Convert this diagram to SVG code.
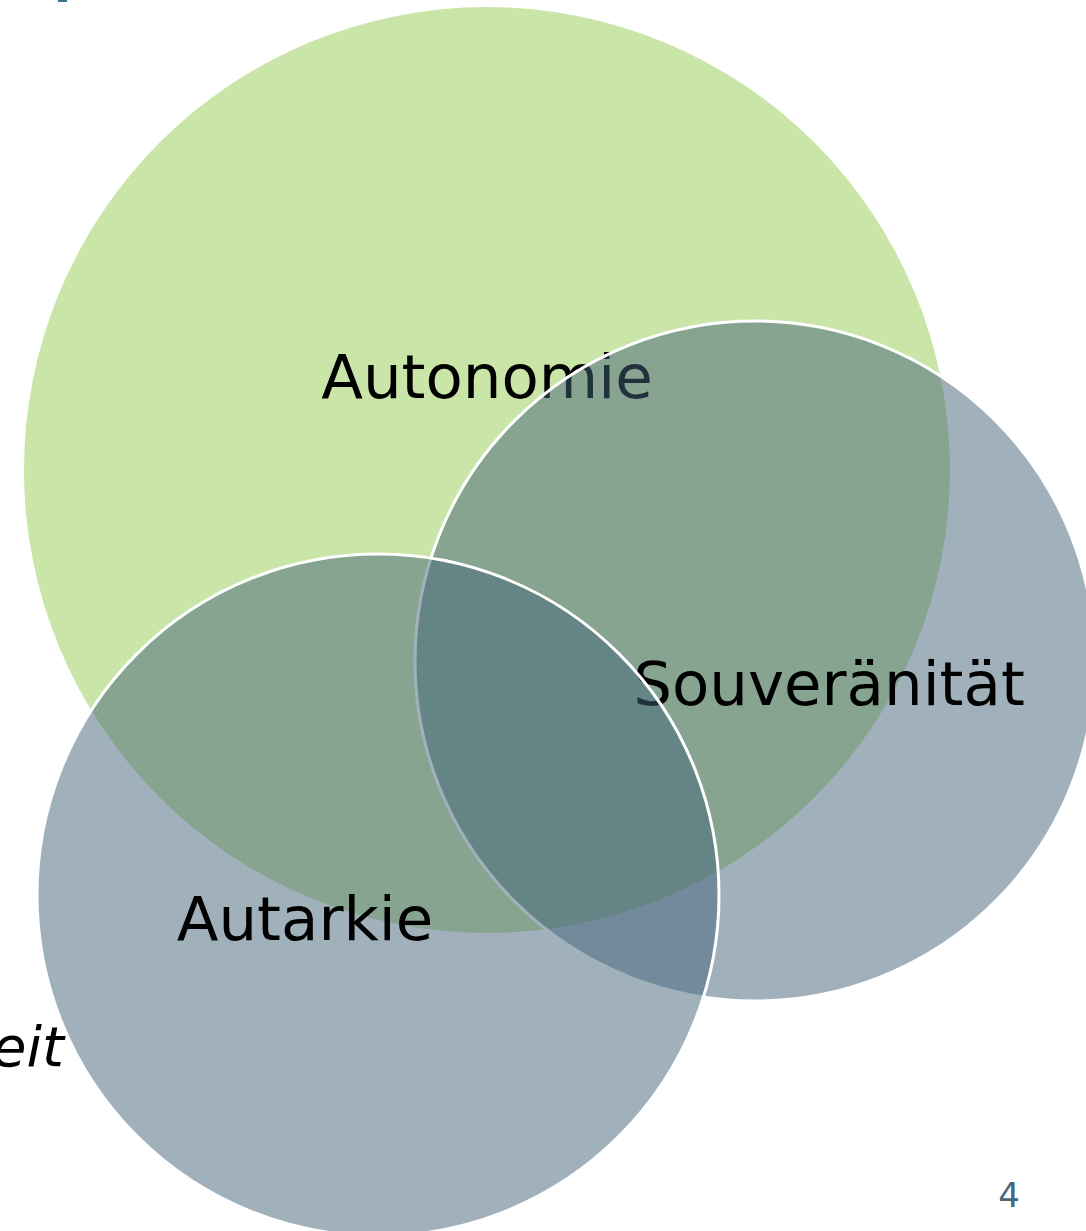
<svg xmlns="http://www.w3.org/2000/svg" width="1086" height="1231" viewBox="0 0 1086 1231">
<style>
.lbl{font-family:"DejaVu Sans","Verdana",sans-serif;font-size:61px;fill:#000}
.blue{fill:#43637A;fill-opacity:0.5;stroke:#fff;stroke-width:3}
</style>
<rect width="1086" height="1231" fill="#fff"/>
<rect x="58" y="0" width="9" height="2" fill="#3E7287"/>
<g id="autonomie">
<circle cx="487" cy="470" r="463" fill="#C9E5A7"/>
<text class="lbl" x="487" y="398" text-anchor="middle">Autonomie</text>
</g>
<g id="souveraenitaet">
<circle class="blue" cx="755" cy="661" r="340"/>
<text class="lbl" x="829" y="705" text-anchor="middle">Souveränität</text>
</g>
<g id="autarkie">
<circle class="blue" cx="378" cy="895" r="341"/>
<text class="lbl" x="305" y="940" text-anchor="middle">Autarkie</text>
</g>
<g id="connectors"></g>
<text x="64" y="1066" text-anchor="end" style="font-family:'DejaVu Sans',sans-serif;font-style:italic;font-size:56px;fill:#000">eit</text>
<text x="1009" y="1207" text-anchor="middle" style="font-family:'DejaVu Sans',sans-serif;font-size:34px;fill:#44687E">4</text>
</svg>
